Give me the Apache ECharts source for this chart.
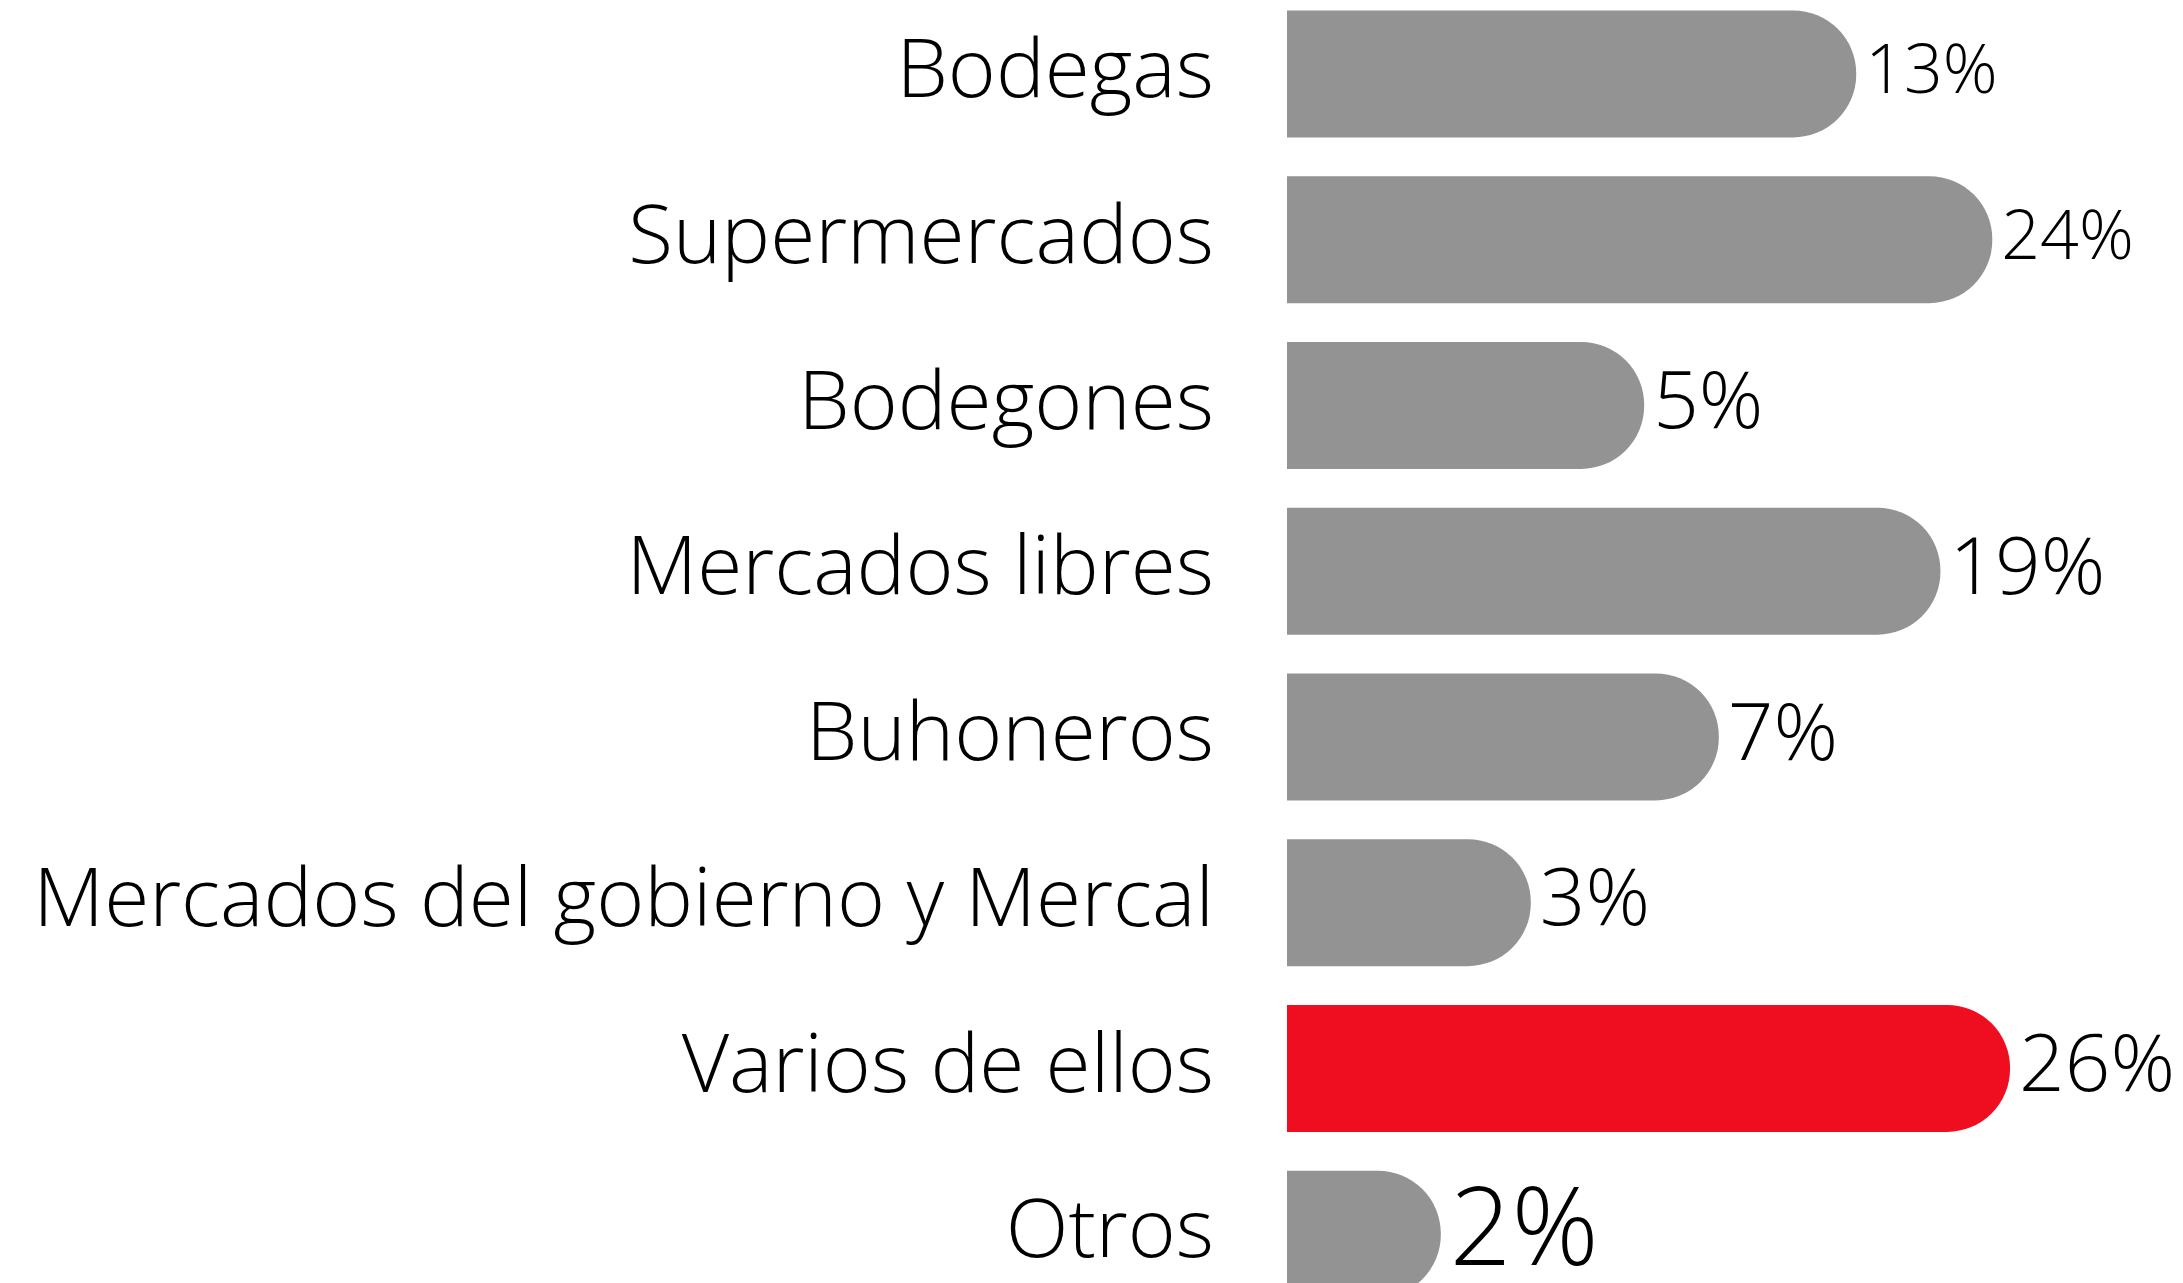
<!DOCTYPE html>
<html>
<head>
<meta charset="utf-8">
<title>Lugares de compra</title>
<script src="https://cdn.jsdelivr.net/npm/echarts@6/dist/echarts.min.js"></script>
<style>
  html, body { margin: 0; padding: 0; background: #fff; }
  #chart { width: 2183px; height: 1283px; }
</style>
</head>
<body>
<div id="chart"></div>
<script>
// categorias y porcentajes
const categories = [
  'Bodegas',
  'Supermercados',
  'Bodegones',
  'Mercados libres',
  'Buhoneros',
  'Mercados del gobierno y Mercal',
  'Varios de ellos',
  'Otros'
]
const values = [13, 24, 5, 19, 7, 3, 26, 2]
const highlight = 'Varios de ellos'
// tamaño de la etiqueta de valor en cada barra
const labelSizes = [68, 68, 80, 80, 80, 80, 80, 108]

const grey = '#939393'
const red = '#ef0e1f'
const font = 'Open Sans'

const chart = echarts.init(document.getElementById('chart'))

const option = {
  animation: false,
  grid: {
    left: 1287,
    top: -9,
    width: 1022,
    height: 1326,
    outerBoundsMode: 'none'
  },
  xAxis: {
    type: 'log',
    min: 1,
    max: 100,
    show: false
  },
  yAxis: {
    type: 'category',
    inverse: true,
    data: categories,
    axisLine: { show: false },
    axisTick: { show: false },
    axisLabel: {
      margin: 73,
      fontSize: 82,
      fontWeight: 300,
      color: '#000',
      fontFamily: font
    }
  },
  series: [
    {
      type: 'bar',
      barWidth: 127,
      data: values.map((v, i) => ({
        value: v,
        itemStyle: {
          color: categories[i] === highlight ? red : grey
        },
        label: { fontSize: labelSizes[i] }
      })),
      itemStyle: {
        borderRadius: [0, 63, 63, 0]
      },
      label: {
        show: true,
        position: 'right',
        distance: 9,
        color: '#000',
        fontWeight: 300,
        fontFamily: font,
        formatter: p => p.value + '%'
      }
    }
  ]
}

chart.setOption(option)
window.addEventListener('resize', () => chart.resize())
</script>
</body>
</html>
